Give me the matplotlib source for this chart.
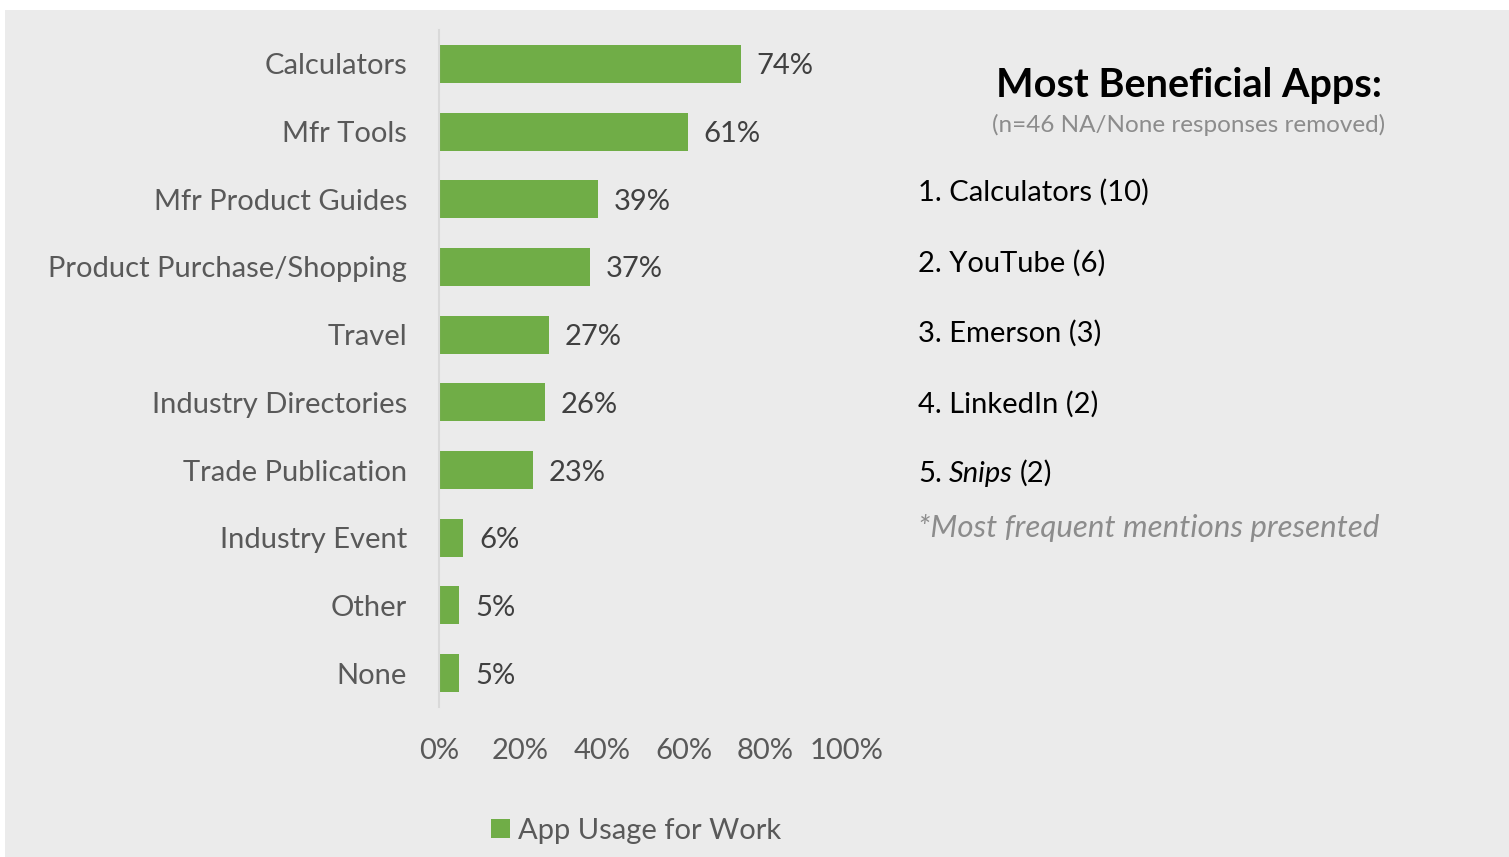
import matplotlib.pyplot as plt
from matplotlib.patches import Rectangle

plt.rcParams['font.family'] = ['Lato', 'DejaVu Sans']

categories = ['Calculators', 'Mfr Tools', 'Mfr Product Guides', 'Product Purchase/Shopping',
              'Travel', 'Industry Directories', 'Trade Publication', 'Industry Event',
              'Other', 'None']
usage = [74, 61, 39, 37, 27, 26, 23, 6, 5, 5]
xticks = [0, 20, 40, 60, 80, 100]

top_apps = [('Calculators', 10), ('YouTube', 6), ('Emerson', 3), ('LinkedIn', 2), ('Snips', 2)]

green = '#70AD47'
bg = '#EBEBEB'
fs = 21

W, H = 1509, 857
fig = plt.figure(figsize=(W / 100, H / 100), dpi=100)
fig.patch.set_facecolor('white')
# grey panel behind everything
fig.patches.append(Rectangle((5 / W, 0), 1 - 5 / W, 1 - 10 / H, transform=fig.transFigure,
                             facecolor=bg, edgecolor='none', zorder=-10))

ax = fig.add_axes([439 / W, (H - 707) / H, (847 - 439) / W, (707 - 30) / H])
ax.set_facecolor('none')
y = list(range(len(categories)))
ax.barh(y, usage, height=0.56, color=green, label='App Usage for Work')
ax.set_xlim(0, 100)
ax.set_ylim(len(categories) - 0.5, -0.5)
ax.set_yticks(y)
ax.set_yticklabels(categories, fontsize=fs, color='#595959')
ax.set_xticks(xticks)
ax.set_xticklabels([f'{t}%' for t in xticks], fontsize=fs, color='#595959')
ax.tick_params(axis='both', length=0)
ax.tick_params(axis='y', pad=23)
ax.tick_params(axis='x', pad=22)
for s in ['top', 'right', 'bottom']:
    ax.spines[s].set_visible(False)
ax.spines['left'].set_color('#D9D9D9')
ax.spines['left'].set_linewidth(1.5)
for yi, v in zip(y, usage):
    ax.text(v + 3.8, yi, f'{v}%', va='center_baseline', ha='left', fontsize=fs, color='#404040')

leg = fig.legend(loc='center', bbox_to_anchor=(636 / W, 1 - 831 / H), frameon=False,
                 fontsize=fs, handlelength=0.65, handleheight=0.65, handletextpad=0.3)
for t in leg.get_texts():
    t.set_color('#595959')

# right-hand panel with the app ranking
fig.text(1189 / W, 1 - 85 / H, 'Most Beneficial Apps:', ha='center', va='center',
         fontsize=28.5, fontweight='bold', color='black')
fig.text(1189 / W, 1 - 125 / H, '(n=46 NA/None responses removed)', ha='center', va='center',
         fontsize=17.5, color='#8C8C8C')
rows_y = [192, 263, 333, 404, 474]
for i, ((name, n), yy) in enumerate(zip(top_apps, rows_y)):
    if name == 'Snips':
        num = fig.text(918 / W, 1 - yy / H, f'{i + 1}.', ha='left', va='center',
                       fontsize=fs, color='black')
        nm = ax.annotate(name, xy=(1, 0), xycoords=num, xytext=(5, 0), textcoords='offset points',
                         ha='left', va='bottom', fontsize=fs, style='italic', color='black',
                         annotation_clip=False)
        ax.annotate(f'({n})', xy=(1, 0), xycoords=nm, xytext=(5, 0), textcoords='offset points',
                    ha='left', va='bottom', fontsize=fs, color='black', annotation_clip=False)
    else:
        fig.text(918 / W, 1 - yy / H, f'{i + 1}. {name} ({n})', ha='left', va='center',
                 fontsize=fs, color='black')
fig.text(918 / W, 1 - 528 / H, '*Most frequent mentions presented', ha='left', va='center',
         fontsize=22.5, style='italic', color='#8C8C8C')

fig.savefig('out.png', dpi=100, facecolor=fig.get_facecolor())
